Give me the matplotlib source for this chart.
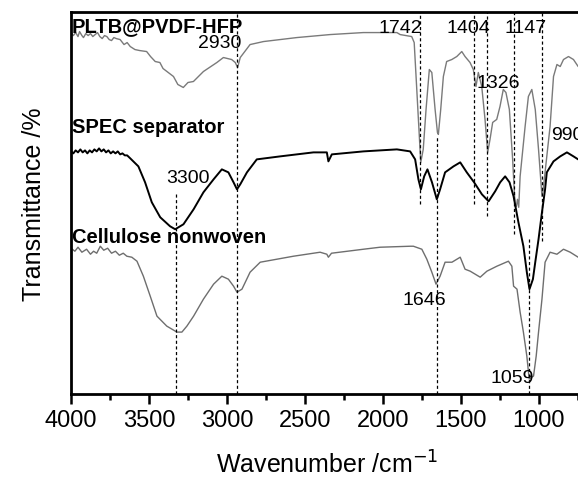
"""FTIR spectra of the SPEC separator and its two components.

Stacked transmittance curves (arbitrary offsets) with dashed guides at the
assigned absorption bands. Writes out.png.
"""
import matplotlib
matplotlib.use("Agg")
import matplotlib.pyplot as plt
from matplotlib.ticker import MultipleLocator, NullLocator

plt.rcParams["font.family"] = ["Liberation Sans", "DejaVu Sans"]

# ---- spectra (wavenumber cm-1, transmittance a.u.) ----
pltb_wn = [4000, 3985, 3970, 3955, 3945, 3930, 3920, 3905, 3890, 3875, 3860,
           3845, 3830, 3815, 3800, 3785, 3770, 3755, 3740, 3725, 3710,
           3685, 3660, 3640, 3620, 3590, 3560, 3515, 3490, 3460, 3430, 3410,
           3343, 3315, 3280, 3250, 3215, 3151, 3065, 3023, 2970, 2947, 2932,
           2915, 2852, 2766, 2552, 2339, 2126, 1911, 1890, 1816, 1800, 1788,
           1773, 1758, 1742, 1724, 1703, 1687, 1666, 1651, 1645, 1630, 1613,
           1592, 1559, 1527, 1495, 1474, 1442, 1421, 1404, 1389, 1367, 1346,
           1329, 1314, 1297, 1271, 1250, 1229, 1212, 1190, 1169, 1154, 1145,
           1138, 1130, 1121, 1089, 1068, 1046, 1024, 1003, 981, 973, 950,
           929, 907, 885, 864, 843, 811, 779, 749, 720]
pltb_t = [362, 359, 362, 358, 363, 359, 357, 361, 359, 361, 358,
          360, 362, 358, 356, 359, 358, 355, 354, 357, 356,
          355, 350, 352, 348, 345, 344, 343, 338, 333, 332, 326,
          318, 310, 307, 312, 313, 323, 332, 337, 335, 332, 327,
          337, 350, 353, 357, 360, 362, 362, 360, 358, 352, 318,
          275, 232, 245, 285, 325, 322, 285, 262, 260, 285, 318,
          333, 335, 338, 343, 338, 332, 325, 308, 322, 308, 275,
          242, 255, 272, 275, 288, 305, 302, 285, 235, 190, 188,
          195, 187, 218, 268, 298, 305, 285, 245, 198, 205, 238,
          268, 318, 330, 328, 335, 338, 335, 328, 330]

spec_wn = [4000, 3985, 3970, 3955, 3940, 3925, 3910, 3895, 3880, 3865, 3850,
           3835, 3820, 3805, 3790, 3775, 3760, 3745, 3730, 3715, 3700, 3685,
           3670, 3655, 3640, 3620, 3568, 3525, 3482, 3428, 3365, 3332, 3279,
           3214, 3151, 3086, 3033, 2991, 2958, 2936, 2915, 2872, 2809, 2659,
           2446, 2360, 2350, 2328, 2125, 1911, 1826, 1794, 1773, 1757, 1736,
           1715, 1686, 1655, 1634, 1602, 1548, 1505, 1463, 1416, 1366, 1323,
           1281, 1249, 1217, 1189, 1163, 1132, 1100, 1078, 1061, 1039, 1024,
           1003, 981, 961, 950, 907, 864, 821, 779, 749, 720]
spec_t = [243, 241, 244, 242, 245, 242, 244, 241, 244, 242, 245,
          243, 246, 243, 245, 242, 244, 241, 243, 241, 243, 240,
          241, 239, 239, 236, 228, 212, 192, 177, 168, 165, 170,
          185, 202, 215, 225, 222, 212, 205, 210, 222, 235, 238,
          242, 242, 233, 240, 243, 245, 243, 235, 215, 205, 218,
          225, 212, 195, 205, 222, 228, 232, 222, 212, 200, 193,
          203, 212, 218, 212, 198, 172, 148, 122, 105, 115, 132,
          155, 182, 205, 222, 233, 238, 242, 238, 235, 236]

cell_wn = [4000, 3975, 3955, 3930, 3900, 3875, 3855, 3835, 3812, 3790, 3765,
           3740, 3715, 3690, 3665, 3642, 3610, 3577, 3536, 3492, 3449, 3386,
           3321, 3289, 3257, 3214, 3151, 3086, 3033, 2991, 2958, 2936, 2904,
           2852, 2787, 2574, 2403, 2360, 2350, 2330, 2125, 2019, 1826, 1805,
           1751, 1719, 1687, 1660, 1634, 1602, 1558, 1505, 1474, 1441, 1377,
           1334, 1270, 1196, 1174, 1163, 1141, 1121, 1100, 1078, 1063, 1035,
           1018, 1003, 981, 961, 929, 885, 843, 800, 749, 720]
cell_t = [146, 143, 147, 142, 145, 140, 143, 141, 148, 144, 146,
          141, 143, 139, 141, 138, 137, 133, 118, 98, 78, 68,
          62, 62, 68, 78, 95, 110, 118, 115, 108, 102, 105,
          122, 132, 138, 142, 140, 137, 141, 145, 147, 148, 148,
          145, 135, 122, 110, 118, 132, 132, 137, 125, 123, 117,
          123, 128, 133, 128, 108, 105, 82, 62, 38, 15, 18,
          38, 62, 95, 132, 142, 140, 145, 142, 137, 138]

# ---- band guides: position, lower and upper end of the dashed line ----
band_wn = [3329, 2934, 1763, 1656, 1417, 1331, 1158, 1064, 979]
band_lo = [0, 0, 190, 0, 190, 178, 160, 0, 153]
band_hi = [200, 383, 383, 258, 383, 383, 383, 157, 383]

# ---- labels: text, left x (cm-1), baseline y ----
band_labels = ["2930", "3300", "1742", "1404", "1147", "1326", "990", "1646", "1059"]
band_label_x = [3186, 3391, 2026, 1596, 1224, 1398, 923, 1878, 1314]
band_label_y = [348, 212, 363, 363, 363, 307, 255, 90, 12]

sample_names = ["PLTB@PVDF-HFP", "SPEC separator", "Cellulose nonwoven"]
sample_label_y = [363, 262, 152]


def main():
    fig = plt.figure(figsize=(5.78, 4.81), dpi=100)
    ax = fig.add_axes([0.1228, 0.1788, 0.8853, 0.795])

    ax.plot(pltb_wn, pltb_t, color="#7a7a7a", lw=1.0)
    ax.plot(spec_wn, spec_t, color="black", lw=1.4)
    ax.plot(cell_wn, cell_t, color="#6e6e6e", lw=1.0)

    for x, lo, hi in zip(band_wn, band_lo, band_hi):
        ax.plot([x, x], [lo, hi], color="black", lw=0.9, ls=(0, (2.5, 2)))

    for txt, x, y in zip(band_labels, band_label_x, band_label_y):
        ax.text(x, y, txt, fontsize=14, ha="left", va="baseline")
    for txt, y in zip(sample_names, sample_label_y):
        ax.text(3995, y, txt, fontsize=14.5, fontweight="bold",
                ha="left", va="baseline")

    ax.set_xlim(4000, 720)
    ax.set_ylim(0, 383)
    ax.xaxis.set_major_locator(MultipleLocator(500))
    ax.xaxis.set_minor_locator(MultipleLocator(250))
    ax.yaxis.set_major_locator(NullLocator())
    ax.tick_params(axis="x", which="major", direction="out", length=7,
                   width=1.8, labelsize=17, pad=4)
    ax.tick_params(axis="x", which="minor", direction="out", length=4, width=1.8)
    for side in ("left", "bottom", "top", "right"):
        ax.spines[side].set_linewidth(2.0)

    ax.set_xlabel("Wavenumber /cm$^{-1}$", fontsize=18, labelpad=14)
    ax.set_ylabel("Transmittance /%", fontsize=18, labelpad=18)

    fig.savefig("out.png", dpi=100)


if __name__ == "__main__":
    main()
